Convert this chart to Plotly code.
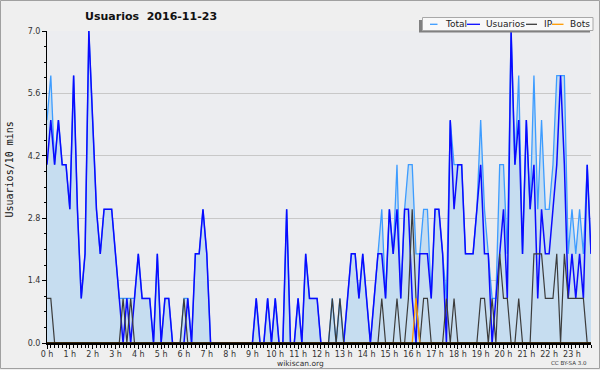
import plotly.graph_objects as go

# ---- data (10-minute buckets, 0h00 .. 23h50) ----
usuarios = [4, 5, 4, 5, 4, 4, 3, 6, 3, 1, 2, 7, 5, 3, 2, 3, 3, 3, 2, 1,
            0, 1, 0, 1, 2, 1, 1, 1, 0, 2, 0, 1, 1, 0, 0, 0, 0, 1, 0, 2,
            2, 3, 2, 0, 0, 0, 0, 0, 0, 0, 0, 0, 0, 0, 0, 1, 0, 0, 1, 0,
            1, 0, 0, 3, 0, 0, 1, 0, 2, 1, 1, 1, 0, 0, 0, 0, 0, 0, 0, 1,
            2, 2, 1, 2, 1, 0, 1, 2, 2, 1, 3, 2, 3, 1, 3, 3, 1, 0, 2, 2,
            2, 1, 3, 3, 2, 0, 5, 3, 4, 4, 2, 2, 2, 3, 4, 2, 2, 0, 1, 2,
            3, 1, 7, 4, 5, 2, 5, 3, 4, 1, 3, 2, 2, 3, 4, 6, 4, 1, 2, 1,
            2, 1, 4, 2]

ip = [1, 1, 0, 0, 0, 0, 0, 0, 0, 0, 0, 0, 0, 0, 0, 0, 0, 0, 0, 0,
      1, 0, 1, 0, 0, 0, 0, 0, 0, 0, 0, 0, 0, 0, 0, 0, 1, 0, 0, 0,
      0, 0, 0, 0, 0, 0, 0, 0, 0, 0, 0, 0, 0, 0, 0, 0, 0, 0, 0, 0,
      0, 0, 0, 0, 0, 0, 0, 0, 0, 0, 0, 0, 0, 0, 0, 1, 0, 1, 0, 0,
      0, 0, 0, 0, 0, 0, 0, 0, 1, 0, 0, 0, 1, 0, 0, 1, 3, 1, 0, 1,
      1, 0, 0, 0, 0, 1, 0, 1, 0, 0, 0, 0, 0, 0, 1, 1, 0, 1, 0, 2,
      1, 1, 0, 0, 1, 0, 0, 0, 2, 2, 2, 1, 1, 1, 2, 0, 2, 1, 1, 1,
      1, 1, 0, 0]

bots = [0] * 97 + [1] + [0] * 46

total = [5, 6, 4, 5, 4, 4, 3, 6, 3, 1, 2, 7, 5, 3, 2, 3, 3, 3, 2, 1,
         1, 1, 1, 1, 2, 1, 1, 1, 0, 2, 0, 1, 1, 0, 0, 0, 1, 1, 0, 2,
         2, 3, 2, 0, 0, 0, 0, 0, 0, 0, 0, 0, 0, 0, 0, 1, 0, 0, 1, 0,
         1, 0, 0, 3, 0, 0, 1, 0, 2, 1, 1, 1, 0, 0, 0, 1, 0, 1, 0, 1,
         2, 2, 1, 2, 1, 0, 1, 2, 3, 1, 3, 2, 4, 1, 3, 4, 4, 2, 2, 3,
         3, 1, 3, 3, 2, 1, 5, 4, 4, 4, 2, 2, 2, 3, 5, 3, 2, 1, 1, 4,
         4, 2, 7, 4, 6, 2, 5, 3, 6, 3, 5, 3, 3, 4, 6, 6, 6, 2, 3, 2,
         3, 2, 4, 2]

slots = list(range(len(usuarios)))
hour_ticks = list(range(0, 144, 6))
hour_labels = [f"{h} h" for h in range(24)]
y_ticks = [0.0, 1.4, 2.8, 4.2, 5.6, 7.0]
y_labels = ["0.0", "1.4", "2.8", "4.2", "5.6", "7.0"]

C_TOTAL = "#3d9cff"
C_USR = "#0a0aff"
C_IP = "#3c3c3c"
C_BOTS = "#ff9a00"

fig = go.Figure()
fig.add_trace(go.Scatter(x=slots, y=total, mode="lines", name="Total",
                         line=dict(color=C_TOTAL, width=1.3),
                         fill="tozeroy", fillcolor="#c6ddf0"))
fig.add_trace(go.Scatter(x=slots, y=usuarios, mode="lines", name="Usuarios",
                         line=dict(color=C_USR, width=1.5)))
fig.add_trace(go.Scatter(x=slots, y=ip, mode="lines", name="IP",
                         line=dict(color=C_IP, width=1.2)))
fig.add_trace(go.Scatter(x=slots, y=bots, mode="lines", name="Bots",
                         line=dict(color=C_BOTS, width=1.3)))

L, R, T, B = 47, 9, 31, 27
W, H = 600, 370
PW, PH = W - L - R, H - T - B


def px(xp):
    return (xp - L) / PW


def py(yp):
    return (H - B - yp) / PH


tick_font = dict(family="DejaVu Sans", size=8, color="#333333")

fig.update_layout(
    width=W, height=H,
    margin=dict(l=L, r=R, t=T, b=B, pad=0),
    paper_bgcolor="#efefef",
    plot_bgcolor="#ecedf0",
    showlegend=False,
    xaxis=dict(range=[0, 143], tickmode="array", tickvals=hour_ticks,
               ticktext=hour_labels, ticks="outside", ticklen=4,
               tickwidth=1, tickcolor="black", showline=True,
               linecolor="black", linewidth=1.5, showgrid=False,
               zeroline=False, tickfont=tick_font, ticklabelstandoff=-1,
               minor=dict(tickmode="linear", tick0=0, dtick=1,
                          ticks="outside", ticklen=3, tickwidth=1,
                          tickcolor="black", showgrid=False)),
    yaxis=dict(range=[0, 7], tickmode="array", tickvals=y_ticks,
               ticktext=y_labels, ticks="outside", ticklen=4,
               tickwidth=1, tickcolor="black", showline=True,
               linecolor="black", linewidth=1, showgrid=True,
               gridcolor="#c8c8c8", gridwidth=1, zeroline=False,
               tickfont=tick_font,
               minor=dict(tickmode="linear", tick0=0, dtick=0.35,
                          ticks="outside", ticklen=2, tickwidth=1,
                          tickcolor="black", showgrid=False)),
)

shapes = []
# baseline drawn over zero-valued line segments, like the original
shapes.append(dict(type="line", xref="paper", yref="paper",
                   x0=0, x1=1, y0=0, y1=0,
                   line=dict(color="black", width=1.6), layer="above"))
# outer frame
shapes.append(dict(type="rect", xref="paper", yref="paper",
                   x0=px(0.5), x1=px(599.5), y0=py(368.5), y1=py(0.5),
                   line=dict(color="#a0a0a0", width=1), fillcolor="rgba(0,0,0,0)",
                   layer="above"))
# legend shadow + box
shapes.append(dict(type="rect", xref="paper", yref="paper",
                   x0=px(419), x1=px(590), y0=py(32.5), y1=py(20),
                   line=dict(width=0), fillcolor="#808080", layer="above"))
shapes.append(dict(type="rect", xref="paper", yref="paper",
                   x0=px(422.5), x1=px(593), y0=py(30.5), y1=py(17.5),
                   line=dict(color="#a8a8a8", width=1), fillcolor="#f8f8f8",
                   layer="above"))
legend_items = [("Total", C_TOTAL, 430, 437.5, 443),
                ("Usuarios", C_USR, 467, 480, 484),
                ("IP", C_IP, 526, 537, 542),
                ("Bots", C_BOTS, 552, 563.5, 568)]
annotations = []
for name, col, lx0, lx1, tx in legend_items:
    shapes.append(dict(type="line", xref="paper", yref="paper",
                       x0=px(lx0), x1=px(lx1), y0=py(24.3), y1=py(24.3),
                       line=dict(color=col, width=1.3), layer="above"))
    annotations.append(dict(xref="paper", yref="paper", x=px(tx), y=py(24.3),
                            text=name, showarrow=False, xanchor="left",
                            yanchor="middle",
                            font=dict(family="DejaVu Sans", size=9, color="#222222")))

annotations.append(dict(xref="paper", yref="paper", x=px(151), y=py(16.5),
                        text="<b>Usuarios\u00a0\u00a02016-11-23</b>", showarrow=False,
                        xanchor="center", yanchor="middle",
                        font=dict(family="DejaVu Sans", size=11, color="#111111")))
annotations.append(dict(xref="paper", yref="paper", x=px(9), y=py(169.5),
                        text="Usuarios/10 mins", showarrow=False, textangle=-90,
                        xanchor="center", yanchor="middle",
                        font=dict(family="DejaVu Sans Mono", size=10, color="#111111")))
annotations.append(dict(xref="paper", yref="paper", x=px(300), y=py(363),
                        text="wikiscan.org", showarrow=False,
                        xanchor="center", yanchor="middle",
                        font=dict(family="DejaVu Sans", size=7.5, color="#333333")))
annotations.append(dict(xref="paper", yref="paper", x=px(589), y=py(362.5),
                        text="CC BY-SA 3.0", showarrow=False,
                        xanchor="right", yanchor="middle",
                        font=dict(family="DejaVu Sans", size=5.5, color="#333333")))

fig.update_layout(shapes=shapes, annotations=annotations)

fig.write_html("out.html", config={"displayModeBar": False},
               post_script="document.body.style.margin='0';")
